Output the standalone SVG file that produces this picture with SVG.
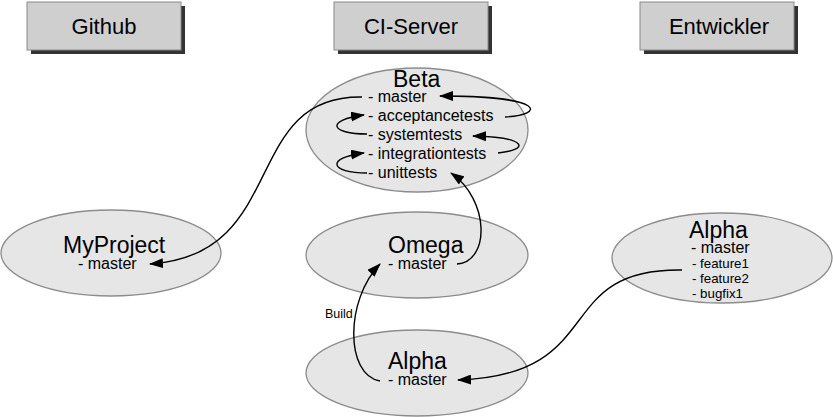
<svg xmlns="http://www.w3.org/2000/svg" width="833" height="417" viewBox="0 0 833 417">
<style>
.hdr{fill:#cfcfcf;stroke:#8a8a8a;stroke-width:1}
.shd{fill:#333}
.ell{fill:#e6e6e6;stroke:#8c8c8c;stroke-width:1.3}
text{font-family:"Liberation Sans",Arial,sans-serif;fill:#000}
.h{font-size:22px;text-anchor:middle}
.t{font-size:23px}
.i{font-size:16px}
.s{font-size:13.3px}
.c{fill:none;stroke:#000;stroke-width:1.4}
</style>
<defs>
<marker id="ah" viewBox="0 0 14 10" refX="13" refY="5" markerWidth="14" markerHeight="10" markerUnits="userSpaceOnUse" orient="auto">
<path d="M0,0 L14,5 L0,10 z" fill="#000"/>
</marker>
</defs>
<g id="hdr-github"><rect class="shd" x="31" y="6" width="154" height="48"/><rect class="hdr" x="27" y="2" width="154" height="48"/><text class="h" x="104" y="34">Github</text></g>
<g id="hdr-ci"><rect class="shd" x="338" y="6" width="154" height="48"/><rect class="hdr" x="334" y="2" width="154" height="48"/><text class="h" x="411" y="34">CI-Server</text></g>
<g id="hdr-dev"><rect class="shd" x="644" y="6" width="154" height="48"/><rect class="hdr" x="640" y="2" width="154" height="48"/><text class="h" x="719" y="34">Entwickler</text></g>
<g id="beta"><ellipse class="ell" cx="417" cy="130" rx="111" ry="62"/>
<text class="t" x="393" y="87">Beta</text>
<text class="i" x="368" y="102">- master</text>
<text class="i" x="368" y="121">- acceptancetests</text>
<text class="i" x="368" y="140">- systemtests</text>
<text class="i" x="368" y="159">- integrationtests</text>
<text class="i" x="368" y="178">- unittests</text></g>
<g id="myproject"><ellipse class="ell" cx="111" cy="253" rx="110" ry="43"/>
<text class="t" x="63" y="253">MyProject</text>
<text class="i" x="78" y="269">- master</text></g>
<g id="omega"><ellipse class="ell" cx="417" cy="255" rx="111" ry="43"/>
<text class="t" x="388" y="253">Omega</text>
<text class="i" x="388" y="269">- master</text></g>
<g id="alpha-ci"><ellipse class="ell" cx="417" cy="373" rx="111" ry="43"/>
<text class="t" x="388" y="369">Alpha</text>
<text class="i" x="388" y="385">- master</text></g>
<g id="alpha-dev"><ellipse class="ell" cx="722" cy="258" rx="110" ry="45"/>
<text class="t" x="689" y="238">Alpha</text>
<text class="i" x="691" y="253">- master</text>
<text class="s" x="692" y="268">- feature1</text>
<text class="s" x="692" y="283">- feature2</text>
<text class="s" x="692" y="298">- bugfix1</text></g>
<g id="connectors">
<path class="c" d="M362,97 C240,95 290,255 150,264" marker-end="url(#ah)"/>
<path class="c" d="M505,117 C545,115 548,96 440,96" marker-end="url(#ah)"/>
<path class="c" d="M498,153 C530,150 528,137 473,136" marker-end="url(#ah)"/>
<path class="c" d="M367,134 C330,134 325,120 364,115" marker-end="url(#ah)"/>
<path class="c" d="M367,173 C330,173 325,158 364,153" marker-end="url(#ah)"/>
<path class="c" d="M457,264 C490,262 490,200 451,173" marker-end="url(#ah)"/>
<path class="c" d="M682,270 C550,268 610,375 458,380" marker-end="url(#ah)"/>
<path class="c" d="M380,381 C345,375 345,300 380,264" marker-end="url(#ah)"/>
<text x="325" y="318" style="font-size:12.5px">Build</text>
</g>
</svg>
